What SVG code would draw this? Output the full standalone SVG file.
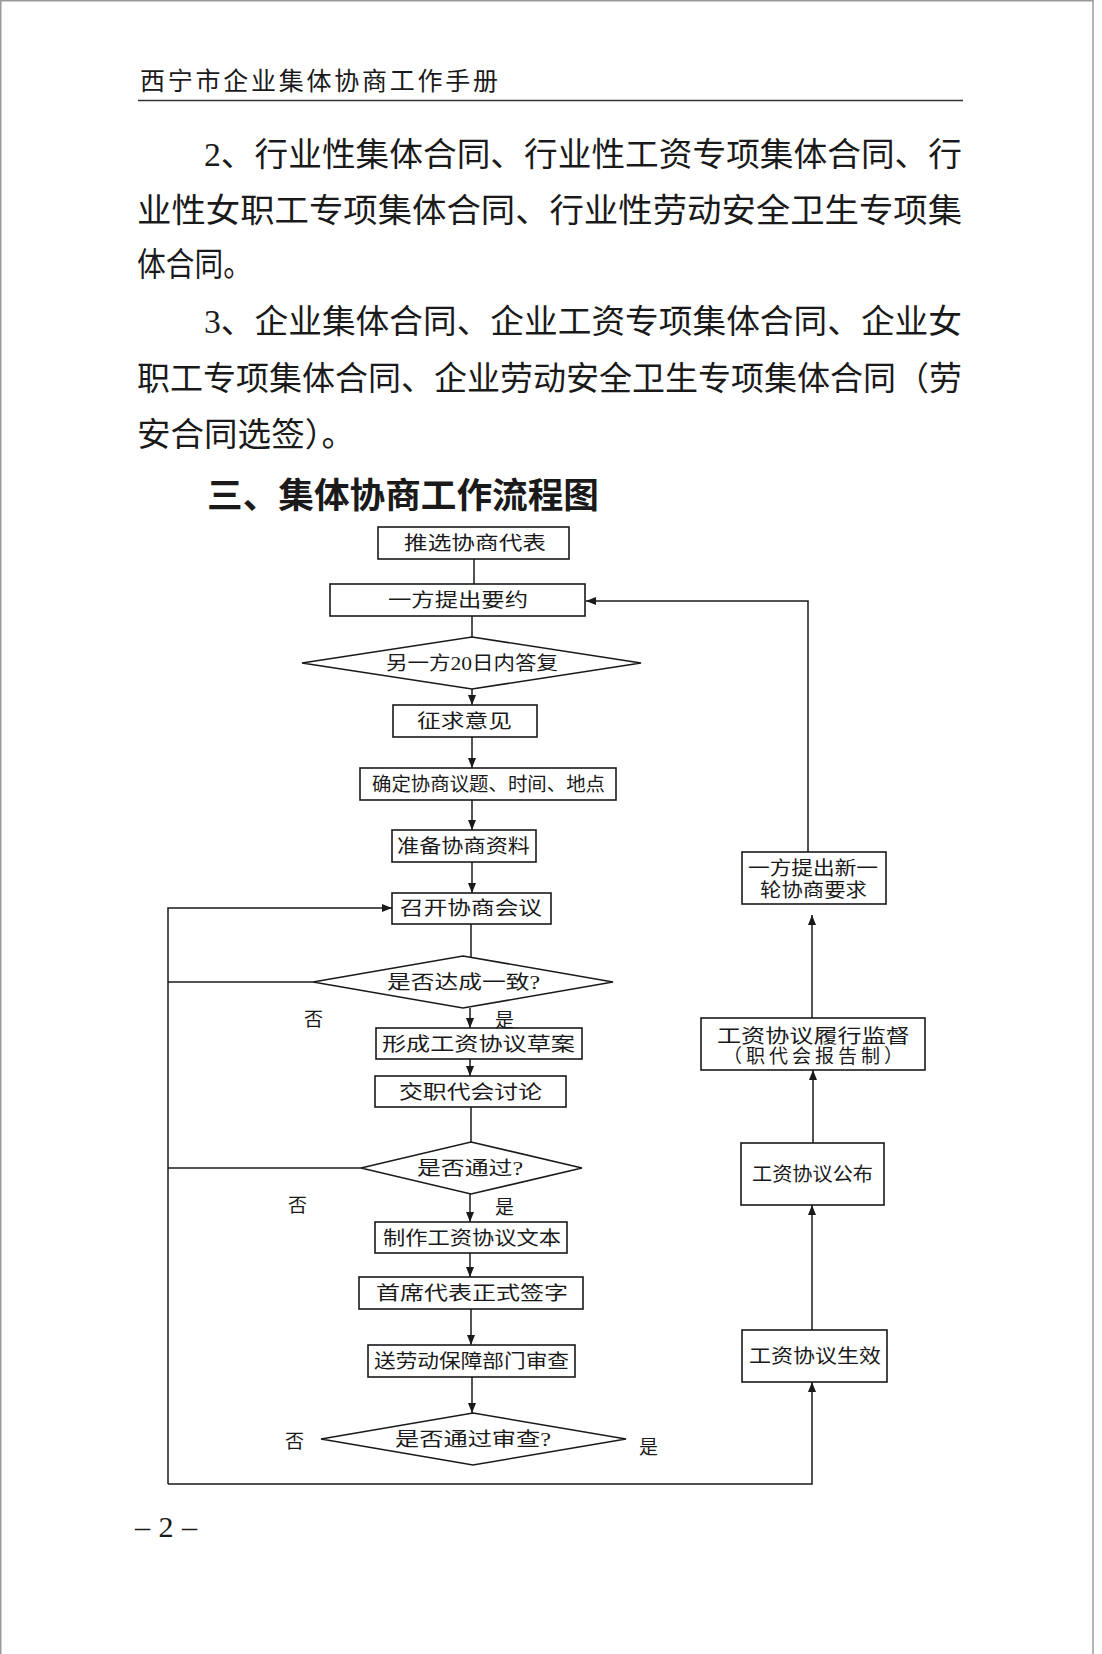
<svg xmlns="http://www.w3.org/2000/svg" width="1102" height="1654" viewBox="0 0 1102 1654">
<defs>
<style>
.pg{fill:#fff}
.frame{fill:none;stroke:#9a9a9a;stroke-width:1.5}
.hd{font-family:"Noto Sans CJK SC","Liberation Serif",sans-serif;font-size:25px;fill:#1a1a1a}
.body{font-family:"Liberation Serif","Noto Sans CJK SC",serif;font-size:33px;fill:#1a1a1a}
.title{font-family:"Noto Sans CJK SC",sans-serif;font-size:35px;font-weight:bold;fill:#1a1a1a}
.box{fill:#fff;stroke:#1a1a1a;stroke-width:1.6}
.t{font-family:"Liberation Serif","Noto Sans CJK SC",serif;font-size:19px;fill:#1a1a1a;text-anchor:start}
.lbl{font-family:"Noto Sans CJK SC",sans-serif;font-size:19px;fill:#1a1a1a}
.ln{fill:none;stroke:#1a1a1a;stroke-width:1.5}
.pn{font-family:"Liberation Serif",serif;font-size:30px;fill:#1a1a1a}
</style>
<marker id="ah" markerWidth="10" markerHeight="10" refX="10" refY="5" orient="auto" markerUnits="userSpaceOnUse">
<path d="M0,1 L10,5 L0,9 z" fill="#1a1a1a"/>
</marker>
</defs>
<rect class="pg" x="0" y="0" width="1102" height="1654"/>
<path class="frame" d="M0.75,1660 V0.75 H1093 V1660"/>

<g id="header">
<text class="hd" x="140" y="90" textLength="358" lengthAdjust="spacing">西宁市企业集体协商工作手册</text>
<line x1="138" y1="100.5" x2="963" y2="100.5" stroke="#333" stroke-width="1.5"/>
</g>

<g id="bodytext">
<text class="body" x="204" y="166" textLength="758" lengthAdjust="spacingAndGlyphs">2、行业性集体合同、行业性工资专项集体合同、行</text>
<text class="body" x="137" y="222" textLength="825" lengthAdjust="spacingAndGlyphs">业性女职工专项集体合同、行业性劳动安全卫生专项集</text>
<text class="body" x="137" y="276" textLength="115" lengthAdjust="spacingAndGlyphs">体合同。</text>
<text class="body" x="204" y="333" textLength="758" lengthAdjust="spacingAndGlyphs">3、企业集体合同、企业工资专项集体合同、企业女</text>
<text class="body" x="137" y="390" textLength="825" lengthAdjust="spacingAndGlyphs">职工专项集体合同、企业劳动安全卫生专项集体合同（劳</text>
<text class="body" x="137" y="446" textLength="218" lengthAdjust="spacingAndGlyphs">安合同选签）。</text>
<text class="title" x="207" y="508" textLength="392" lengthAdjust="spacingAndGlyphs">三、集体协商工作流程图</text>
</g>

<g id="connectors">
<path class="ln" d="M474,559 V584"/>
<path class="ln" d="M472,616 V637"/>
<path class="ln" d="M472,689 V705" marker-end="url(#ah)"/>
<path class="ln" d="M472,737 V768" marker-end="url(#ah)"/>
<path class="ln" d="M472,800 V830" marker-end="url(#ah)"/>
<path class="ln" d="M472,862 V893" marker-end="url(#ah)"/>
<path class="ln" d="M471,924 V957"/>
<path class="ln" d="M470,1008 V1028" marker-end="url(#ah)"/>
<path class="ln" d="M470,1059 V1076" marker-end="url(#ah)"/>
<path class="ln" d="M471,1107 V1142"/>
<path class="ln" d="M470,1194 V1222" marker-end="url(#ah)"/>
<path class="ln" d="M470,1253 V1277" marker-end="url(#ah)"/>
<path class="ln" d="M471,1309 V1345" marker-end="url(#ah)"/>
<path class="ln" d="M472,1377 V1413" marker-end="url(#ah)"/>
<path class="ln" d="M313,982 H168"/>
<path class="ln" d="M361,1168 H168"/>
<path class="ln" d="M168,1484 V908 H392" marker-end="url(#ah)"/>
<path class="ln" d="M168,1484 H812 V1382" marker-end="url(#ah)"/>
<path class="ln" d="M812,1330 V1205" marker-end="url(#ah)"/>
<path class="ln" d="M813,1143 V1070" marker-end="url(#ah)"/>
<path class="ln" d="M812,1018 V915" marker-end="url(#ah)"/>
<path class="ln" d="M808,852 V601 H586" marker-end="url(#ah)"/>
</g>

<g id="n1"><rect class="box" x="378" y="527" width="191" height="32"/><text class="t" x="404" y="550" textLength="142" lengthAdjust="spacingAndGlyphs">推选协商代表</text></g>
<g id="n2"><rect class="box" x="330" y="584" width="255" height="32"/><text class="t" x="388" y="607" textLength="140" lengthAdjust="spacingAndGlyphs">一方提出要约</text></g>
<g id="n3"><polygon class="box" points="472,637 641,663 472,689 302,663"/><text class="t" x="386" y="670" textLength="172" lengthAdjust="spacingAndGlyphs">另一方20日内答复</text></g>
<g id="n4"><rect class="box" x="393" y="705" width="144" height="32"/><text class="t" x="417" y="728" textLength="95" lengthAdjust="spacingAndGlyphs">征求意见</text></g>
<g id="n5"><rect class="box" x="360" y="768" width="256" height="32"/><text class="t" x="372" y="791" textLength="233" lengthAdjust="spacingAndGlyphs">确定协商议题、时间、地点</text></g>
<g id="n6"><rect class="box" x="392" y="830" width="144" height="32"/><text class="t" x="397" y="853" textLength="133" lengthAdjust="spacingAndGlyphs">准备协商资料</text></g>
<g id="n7"><rect class="box" x="392" y="893" width="159" height="31"/><text class="t" x="400" y="915" textLength="142" lengthAdjust="spacingAndGlyphs">召开协商会议</text></g>
<g id="n8"><polygon class="box" points="463,956 613,982 463,1008 313,982"/><text class="t" x="387" y="989" textLength="153" lengthAdjust="spacingAndGlyphs">是否达成一致?</text></g>
<g id="n9"><rect class="box" x="376" y="1028" width="206" height="31"/><text class="t" x="382" y="1051" textLength="193" lengthAdjust="spacingAndGlyphs">形成工资协议草案</text></g>
<g id="n10"><rect class="box" x="375" y="1076" width="191" height="31"/><text class="t" x="399" y="1099" textLength="143" lengthAdjust="spacingAndGlyphs">交职代会讨论</text></g>
<g id="n11"><polygon class="box" points="471,1142 582,1168 471,1194 361,1168"/><text class="t" x="417" y="1175" textLength="106" lengthAdjust="spacingAndGlyphs">是否通过?</text></g>
<g id="n12"><rect class="box" x="375" y="1222" width="192" height="31"/><text class="t" x="383" y="1245" textLength="178" lengthAdjust="spacingAndGlyphs">制作工资协议文本</text></g>
<g id="n13"><rect class="box" x="359" y="1277" width="224" height="32"/><text class="t" x="376" y="1300" textLength="192" lengthAdjust="spacingAndGlyphs">首席代表正式签字</text></g>
<g id="n14"><rect class="box" x="368" y="1345" width="207" height="32"/><text class="t" x="374" y="1368" textLength="195" lengthAdjust="spacingAndGlyphs">送劳动保障部门审查</text></g>
<g id="n15"><polygon class="box" points="473,1413 626,1439 473,1465 321,1439"/><text class="t" x="395" y="1446" textLength="156" lengthAdjust="spacingAndGlyphs">是否通过审查?</text></g>
<g id="n16"><rect class="box" x="742" y="1330" width="145" height="52"/><text class="t" x="749" y="1363" textLength="132" lengthAdjust="spacingAndGlyphs">工资协议生效</text></g>
<g id="n17"><rect class="box" x="741" y="1143" width="143" height="62"/><text class="t" x="752" y="1181" textLength="121" lengthAdjust="spacingAndGlyphs">工资协议公布</text></g>
<g id="n18"><rect class="box" x="701" y="1018" width="224" height="52"/><text class="t" x="717" y="1043" textLength="193" lengthAdjust="spacingAndGlyphs">工资协议履行监督</text><text class="t" x="723" y="1063" textLength="180" lengthAdjust="spacing">（职代会报告制）</text></g>
<g id="n19"><rect class="box" x="742" y="852" width="144" height="52"/><text class="t" x="748" y="875" textLength="130" lengthAdjust="spacingAndGlyphs">一方提出新一</text><text class="t" x="760" y="897" textLength="107" lengthAdjust="spacingAndGlyphs">轮协商要求</text></g>

<g id="labels">
<text class="lbl" x="304" y="1026">否</text>
<text class="lbl" x="495" y="1027">是</text>
<text class="lbl" x="288" y="1212">否</text>
<text class="lbl" x="495" y="1214">是</text>
<text class="lbl" x="285" y="1448">否</text>
<text class="lbl" x="639" y="1454">是</text>
</g>

<g id="footer">
<text class="pn" x="135" y="1537" textLength="62" lengthAdjust="spacing">– 2 –</text>
</g>
</svg>
